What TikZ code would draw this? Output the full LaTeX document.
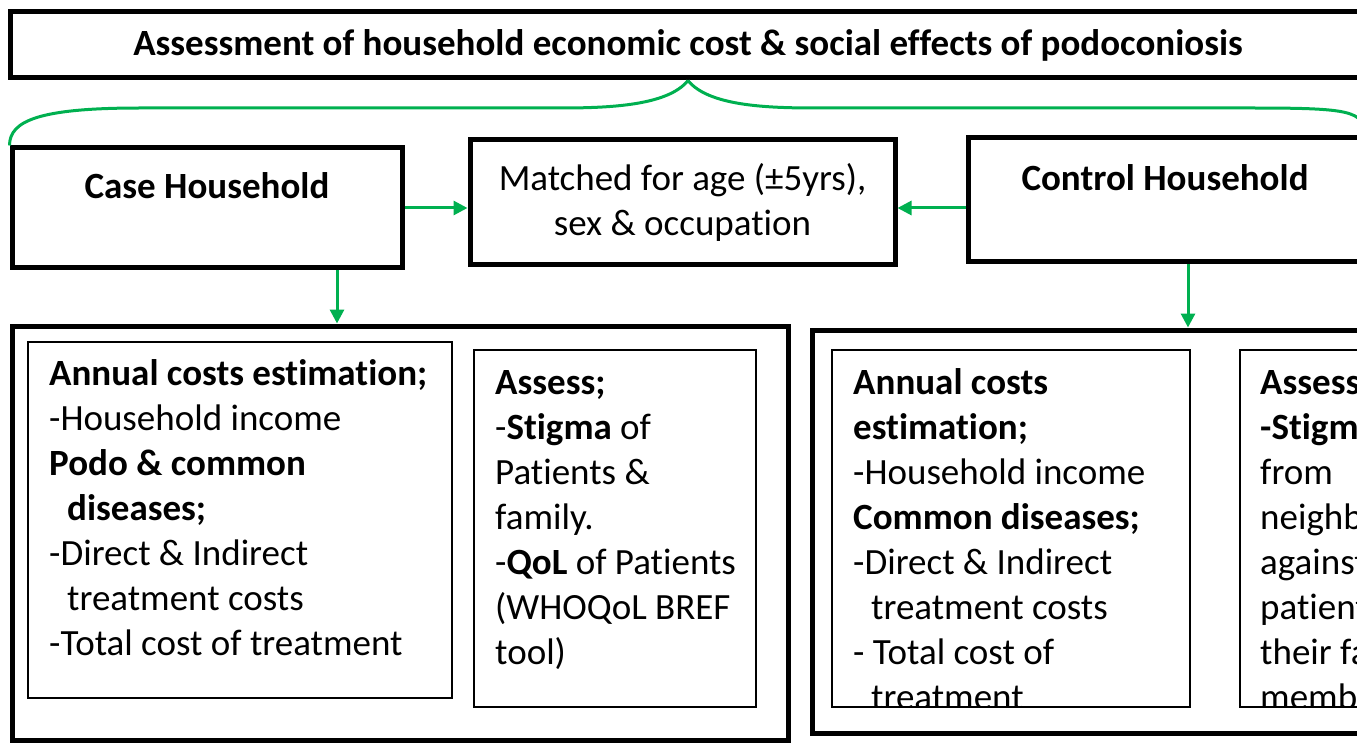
\documentclass[tikz,border=0pt]{standalone}
\usepackage{fontspec}
\setmainfont{Carlito}[Ligatures=NoCommon]
\usetikzlibrary{arrows.meta,calc}
\definecolor{podogreen}{HTML}{00B050}
\def\bodyfont{\fontsize{37}{45}\selectfont}
\def\ind{\hspace*{18pt}}

\begin{document}
\begin{tikzpicture}[x=1pt,y=-1pt,
    thickbox/.style={draw,line width=5pt,inner sep=0pt},
    thinbox/.style={draw,line width=1.8pt,inner sep=0pt},
    boxtext/.style={anchor=north west,inner sep=0pt,align=left,font=\bodyfont},
    link/.style={draw=podogreen,line width=3pt},
    arrow/.style={link,-{Triangle[length=14pt,width=14pt]}}]
    %%%%% START %%%%%
    \useasboundingbox (0,0) rectangle (1357,743);
    \clip (0,0) rectangle (1357,743);

    % top row
    \node[thickbox,minimum width=1356pt,minimum height=66pt,font=\fontsize{37}{44}\selectfont\bfseries] (title) at (688,45)
        {Assessment of household economic cost \& social effects of podoconiosis};
    \node[thickbox,minimum width=390pt,minimum height=120pt,align=center,font=\bodyfont\bfseries] (case) at (207,208)
        {Case Household\\ \mbox{}};
    \node[thickbox,minimum width=425pt,minimum height=125pt,align=center,font=\bodyfont] (matched) at (682.5,202.5)
        {Matched for age (±5yrs),\\ sex \& occupation};
    \node[thickbox,minimum width=394pt,minimum height=124pt,align=center,font=\bodyfont\bfseries] (control) at (1165,200)
        {Control Household\\ \mbox{}};

    % outer boxes
    \node[thickbox,minimum width=776pt,minimum height=414pt] (caseout) at (400,533) {};
    \node[thickbox,minimum width=776pt,minimum height=403pt] (ctrlout) at (1200,531.5) {};

    % inner boxes
    \node[thinbox,minimum width=424pt,minimum height=356pt] (costA) at (240,520) {};
    \node[thinbox,minimum width=282pt,minimum height=357pt] (socA) at (615,528.5) {};
    \node[thinbox,minimum width=358pt,minimum height=357pt] (costB) at (1011,528.5) {};
    \node[thinbox,minimum width=358pt,minimum height=357pt] (socB) at (1419,528.5) {};

    \node[boxtext] (costAtxt) at (49,353.5) {\strut\textbf{Annual costs estimation;}\\
        -Household income\\
        \textbf{Podo \& common}\\
        \ind\textbf{diseases;}\\
        -Direct \& Indirect\\
        \ind treatment costs\\
        -Total cost of treatment};
    \node[boxtext] (socAtxt) at (495,362.5) {\strut\textbf{Assess;}\\
        -\textbf{Stigma} of\\
        Patients \&\\
        family.\\
        -\textbf{QoL} of Patients\\
        (WHOQoL BREF\\
        tool)};

    \begin{scope}
        \clip (costB.south west) rectangle (costB.north east);
        \node[boxtext] (costBtxt) at (853,362.5) {\strut\textbf{Annual costs}\\
            \textbf{estimation;}\\
            -Household income\\
            \textbf{Common diseases;}\\
            -Direct \& Indirect\\
            \ind treatment costs\\
            - Total cost of\\
            \ind treatment};
    \end{scope}
    \begin{scope}
        \clip (socB.south west) rectangle (socB.north east);
        \node[boxtext] (socBtxt) at (1260,362.5) {\strut\textbf{Assess;}\\
            \textbf{-Stigma}\\
            from\\
            neighbours\\
            against\\
            patients \&\\
            their family\\
            members};
    \end{scope}

    % green connectors
    \coordinate (braceL) at (140,108);
    \coordinate (braceM) at (560,108);
    \coordinate (braceN) at (815,108);
    \coordinate (braceR) at (1250,108);
    \draw[link] (title.south) .. controls +(-20,25) and +(50,0) .. (braceM) -- (braceL)
        .. controls +(-100,0) and +(0,-25) .. (case.north west);
    \draw[link] (title.south) .. controls +(20,25) and +(-50,0) .. (braceN) -- (braceR)
        .. controls +(100,0) and +(0,-25) .. (control.north east);

    \draw[arrow] (case.east) -- (case.east -| matched.west);
    \draw[arrow] (control.west |- case.east) -- (matched.east |- case.east);
    \draw[arrow] ([xshift=130pt]case.south) -- ([xshift=130pt]case.south |- caseout.north);
    \draw[arrow] ([xshift=23pt]control.south) -- ([xshift=23pt]control.south |- ctrlout.north);
    %%%%% END %%%%%
\end{tikzpicture}
\end{document}
